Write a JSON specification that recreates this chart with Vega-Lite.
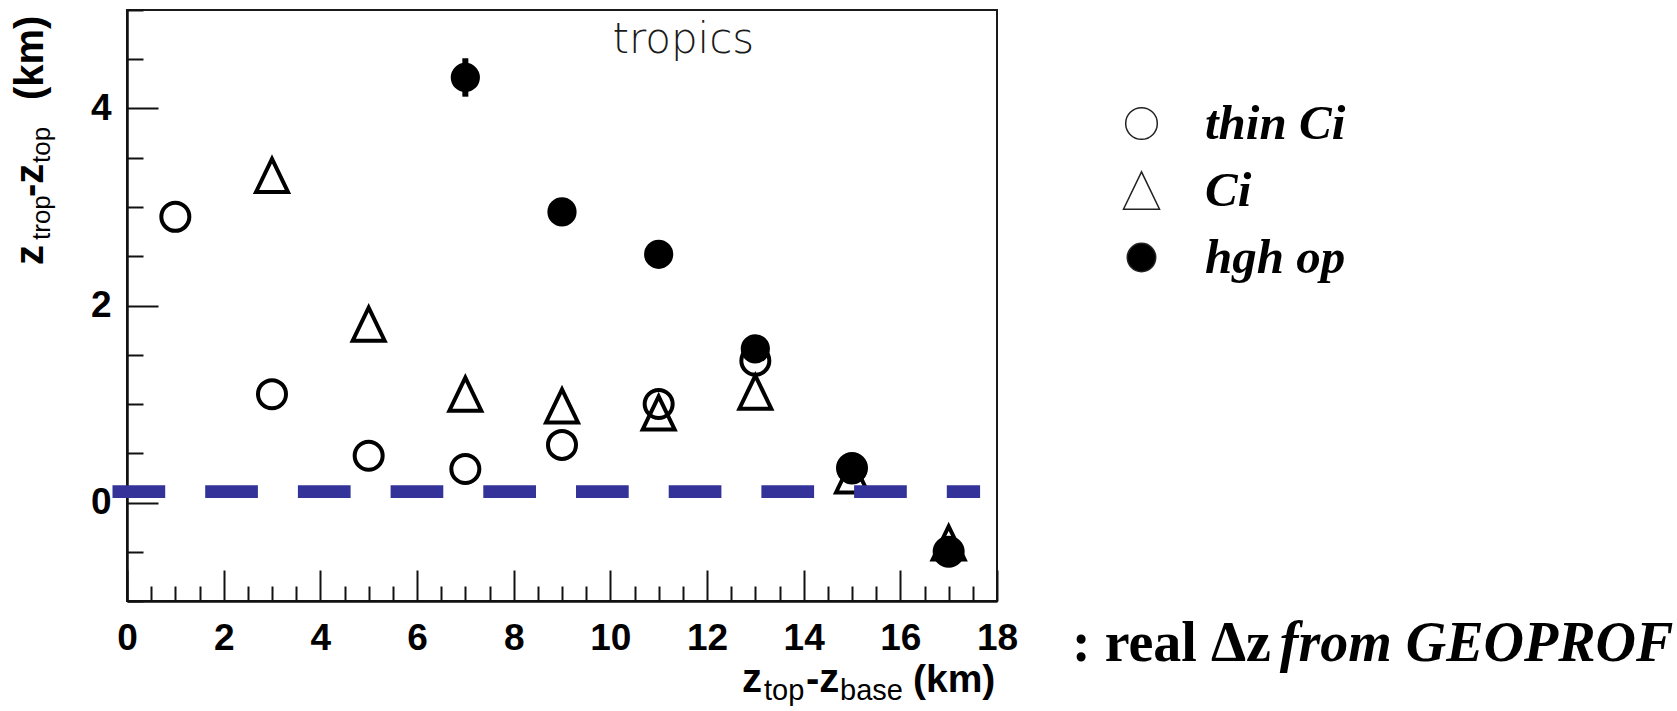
{
  "$schema": "https://vega.github.io/schema/vega-lite/v6.json",
  "width": 870,
  "height": 591,
  "autosize": {"type": "none"},
  "padding": {"left": 127, "top": 10, "right": 680, "bottom": 110},
  "background": "white",
  "config": {
    "view": {"stroke": "#1a1a1a", "strokeWidth": 2},
    "axis": {
      "domainColor": "#111111",
      "domainWidth": 2.5,
      "tickColor": "#111111",
      "tickWidth": 2,
      "labelFont": "Liberation Sans",
      "labelFontWeight": "bold",
      "labelFontSize": 37,
      "labelColor": "#000000",
      "labelFlush": false,
      "labelOverlap": false,
      "grid": false,
      "title": null
    },
    "axisX": {"tickCount": 36},
    "axisY": {"tickCount": 12}
  },
  "datasets": {
    "clouds": [
      {"dz": 7, "gap": 4.315, "type": "hgh op"},
      {"dz": 9, "gap": 2.95, "type": "hgh op"},
      {"dz": 11, "gap": 2.52, "type": "hgh op"},
      {"dz": 13, "gap": 1.56, "type": "hgh op"},
      {"dz": 15, "gap": 0.33, "type": "hgh op"},
      {"dz": 17, "gap": -0.5, "type": "hgh op"},
      {"dz": 1, "gap": 2.9, "type": "thin Ci"},
      {"dz": 3, "gap": 1.1, "type": "thin Ci"},
      {"dz": 5, "gap": 0.475, "type": "thin Ci"},
      {"dz": 7, "gap": 0.34, "type": "thin Ci"},
      {"dz": 9, "gap": 0.585, "type": "thin Ci"},
      {"dz": 11, "gap": 1.0, "type": "thin Ci"},
      {"dz": 13, "gap": 1.44, "type": "thin Ci"},
      {"dz": 15, "gap": 0.35, "type": "thin Ci"},
      {"dz": 17, "gap": -0.5, "type": "thin Ci"},
      {"dz": 3, "gap": 3.32, "type": "Ci"},
      {"dz": 5, "gap": 1.81, "type": "Ci"},
      {"dz": 7, "gap": 1.1, "type": "Ci"},
      {"dz": 9, "gap": 0.98, "type": "Ci"},
      {"dz": 11, "gap": 0.91, "type": "Ci"},
      {"dz": 13, "gap": 1.12, "type": "Ci"},
      {"dz": 15, "gap": 0.27, "type": "Ci"},
      {"dz": 17, "gap": -0.41, "type": "Ci"}
    ],
    "spread": [{"dz": 7, "lo": 4.12, "hi": 4.51}],
    "reference": [{"from": -0.3, "to": 17.65, "level": 0.11}]
  },
  "data": {"values": [{}]},
  "layer": [
    {
      "data": {"name": "clouds"},
      "mark": {"type": "point", "filled": false, "color": "#000000", "strokeWidth": 4, "opacity": 1, "size": 784},
      "encoding": {
        "x": {
          "field": "dz",
          "type": "quantitative",
          "scale": {"domain": [0, 18], "nice": false, "zero": false},
          "axis": {
            "labelExpr": "datum.value % 2 === 0 ? '' + datum.value : ''",
            "tickSize": -31,
            "labelPadding": 50,
            "encoding": {"ticks": {"y2": {"condition": {"test": "datum.value % 2 === 0", "value": -31}, "value": -15}}}
          }
        },
        "y": {
          "field": "gap",
          "type": "quantitative",
          "scale": {"domain": [-1, 5], "nice": false, "zero": false},
          "axis": {
            "labelExpr": "datum.value % 2 === 0 ? '' + datum.value : ''",
            "tickSize": -31,
            "labelPadding": 47,
            "encoding": {"ticks": {"x2": {"condition": {"test": "datum.value % 2 === 0", "value": 31}, "value": 16}}}
          }
        },
        "shape": {
          "field": "type",
          "type": "nominal",
          "scale": {
            "domain": ["thin Ci", "Ci", "hgh op"],
            "range": ["circle", "M0,-1.18L-1.14,1.18L1.14,1.18Z", "M-0.9,0A0.9,0.9 0 1,0 0.9,0A0.9,0.9 0 1,0 -0.9,0Z"]
          },
          "legend": {
            "title": null, "orient": "none", "legendX": 990, "legendY": 89,
            "labelFont": "Liberation Serif", "labelFontSize": 49, "labelFontWeight": "bold", "labelFontStyle": "italic",
            "labelColor": "#000000", "labelOffset": 39, "labelLimit": 400, "rowPadding": 17,
            "symbolSize": 1000, "symbolStrokeWidth": 1.5, "symbolStrokeColor": "#222222",
            "encoding": {"symbols": {"stroke": {"value": "#222222"}, "strokeWidth": {"value": 1.5}}}
          }
        },
        "fill": {
          "field": "type",
          "type": "nominal",
          "scale": {"domain": ["thin Ci", "Ci", "hgh op"], "range": ["transparent", "transparent", "#000000"]},
          "legend": {
            "title": null, "orient": "none", "legendX": 990, "legendY": 89,
            "labelFont": "Liberation Serif", "labelFontSize": 49, "labelFontWeight": "bold", "labelFontStyle": "italic",
            "labelColor": "#000000", "labelOffset": 39, "labelLimit": 400, "rowPadding": 17,
            "symbolSize": 1000, "symbolStrokeWidth": 1.5, "symbolStrokeColor": "#222222",
            "encoding": {"symbols": {"stroke": {"value": "#222222"}, "strokeWidth": {"value": 1.5}}}
          }
        }
      }
    },
    {
      "data": {"name": "spread"},
      "mark": {"type": "rule", "strokeWidth": 6, "color": "#000000"},
      "encoding": {
        "x": {"field": "dz", "type": "quantitative"},
        "y": {"field": "lo", "type": "quantitative"},
        "y2": {"field": "hi"}
      }
    },
    {
      "data": {"name": "reference"},
      "mark": {"type": "rule", "color": "#333399", "strokeWidth": 12.6, "strokeDash": [52.7, 40], "strokeCap": "butt"},
      "encoding": {
        "x": {"field": "from", "type": "quantitative"},
        "x2": {"field": "to"},
        "y": {"field": "level", "type": "quantitative"}
      }
    },
    {
      "mark": {"type": "text", "text": "tropics", "font": "DejaVu Sans", "fontWeight": 200, "fontSize": 42, "align": "center", "baseline": "alphabetic", "color": "#1a1a1a"},
      "encoding": {"x": {"datum": 11.51, "type": "quantitative"}, "y": {"datum": 4.566, "type": "quantitative"}}
    },
    {
      "mark": {"type": "text", "text": "z", "font": "Liberation Sans", "fontWeight": "bold", "fontSize": 40, "align": "left", "baseline": "alphabetic", "color": "#000000"},
      "encoding": {"x": {"datum": 12.724, "type": "quantitative"}, "y": {"datum": -1.924, "type": "quantitative"}}
    },
    {
      "mark": {"type": "text", "text": "top", "font": "Liberation Sans", "fontSize": 29, "align": "left", "baseline": "alphabetic", "color": "#000000"},
      "encoding": {"x": {"datum": 13.179, "type": "quantitative"}, "y": {"datum": -2.005, "type": "quantitative"}}
    },
    {
      "mark": {"type": "text", "text": "-z", "font": "Liberation Sans", "fontWeight": "bold", "fontSize": 40, "align": "left", "baseline": "alphabetic", "color": "#000000"},
      "encoding": {"x": {"datum": 14.048, "type": "quantitative"}, "y": {"datum": -1.924, "type": "quantitative"}}
    },
    {
      "mark": {"type": "text", "text": "base", "font": "Liberation Sans", "fontSize": 29, "align": "left", "baseline": "alphabetic", "color": "#000000"},
      "encoding": {"x": {"datum": 14.752, "type": "quantitative"}, "y": {"datum": -2.005, "type": "quantitative"}}
    },
    {
      "mark": {"type": "text", "text": "(km)", "font": "Liberation Sans", "fontWeight": "bold", "fontSize": 39, "align": "left", "baseline": "alphabetic", "color": "#000000"},
      "encoding": {"x": {"datum": 16.262, "type": "quantitative"}, "y": {"datum": -1.924, "type": "quantitative"}}
    },
    {
      "mark": {"type": "text", "text": "z", "angle": 270, "font": "Liberation Sans", "fontWeight": "bold", "fontSize": 40, "align": "left", "baseline": "alphabetic", "color": "#000000"},
      "encoding": {"x": {"datum": -1.738, "type": "quantitative"}, "y": {"datum": 2.411, "type": "quantitative"}}
    },
    {
      "mark": {"type": "text", "text": "trop", "angle": 270, "font": "Liberation Sans", "fontSize": 26, "align": "left", "baseline": "alphabetic", "color": "#000000"},
      "encoding": {"x": {"datum": -1.593, "type": "quantitative"}, "y": {"datum": 2.665, "type": "quantitative"}}
    },
    {
      "mark": {"type": "text", "text": "-z", "angle": 270, "font": "Liberation Sans", "fontWeight": "bold", "fontSize": 40, "align": "left", "baseline": "alphabetic", "color": "#000000"},
      "encoding": {"x": {"datum": -1.738, "type": "quantitative"}, "y": {"datum": 3.102, "type": "quantitative"}}
    },
    {
      "mark": {"type": "text", "text": "top", "angle": 270, "font": "Liberation Sans", "fontSize": 26, "align": "left", "baseline": "alphabetic", "color": "#000000"},
      "encoding": {"x": {"datum": -1.593, "type": "quantitative"}, "y": {"datum": 3.447, "type": "quantitative"}}
    },
    {
      "mark": {"type": "text", "text": "(km)", "angle": 270, "font": "Liberation Sans", "fontWeight": "bold", "fontSize": 40, "align": "left", "baseline": "alphabetic", "color": "#000000"},
      "encoding": {"x": {"datum": -1.738, "type": "quantitative"}, "y": {"datum": 4.086, "type": "quantitative"}}
    },
    {
      "mark": {"type": "text", "text": ": real Δz", "font": "Liberation Serif", "fontWeight": "bold", "fontSize": 56, "align": "left", "baseline": "alphabetic", "color": "#000000"},
      "encoding": {"x": {"datum": 19.552, "type": "quantitative"}, "y": {"datum": -1.609, "type": "quantitative"}}
    },
    {
      "mark": {"type": "text", "text": "from GEOPROF", "font": "Liberation Serif", "fontWeight": "bold", "fontStyle": "italic", "fontSize": 56, "align": "left", "baseline": "alphabetic", "color": "#000000"},
      "encoding": {"x": {"datum": 23.85, "type": "quantitative"}, "y": {"datum": -1.609, "type": "quantitative"}}
    }
  ]
}
